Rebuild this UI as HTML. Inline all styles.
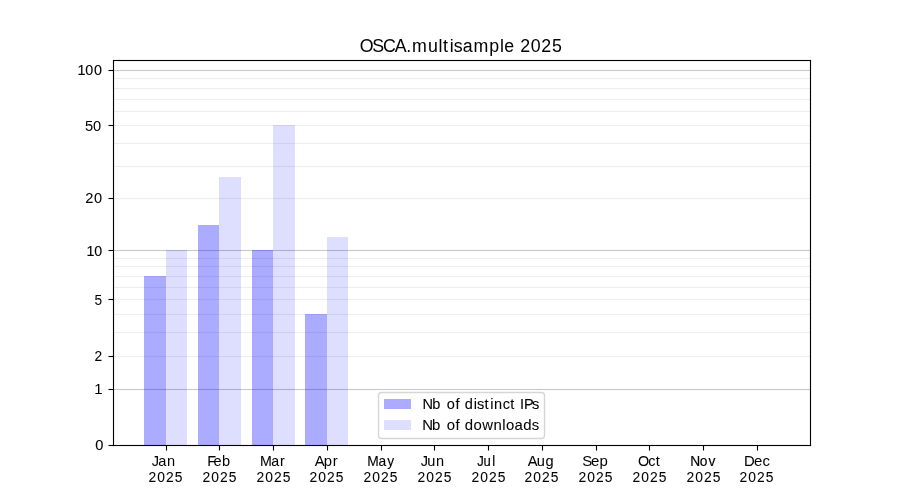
<!DOCTYPE html>
<html lang="en">
<head>
<meta charset="utf-8">
<title>OSCA.multisample 2025</title>
<style>
html,body{margin:0;padding:0;background:#fff;}
body{width:900px;height:500px;overflow:hidden;}
svg{display:block;}
text{font-family:"Liberation Sans",sans-serif;fill:#000;}
</style>
</head>
<body>
<svg width="900" height="500" viewBox="0 0 900 500" role="img" aria-label="OSCA.multisample 2025 bar chart">
<rect x="0" y="0" width="900" height="500" fill="#ffffff"/>
<g id="grid">
<rect x="113.000" y="388.945" width="698.000" height="1.111" fill="#c8c8c8"/>
<rect x="113.000" y="355.945" width="698.000" height="1.111" fill="#eeeeee"/>
<rect x="113.000" y="331.945" width="698.000" height="1.111" fill="#eeeeee"/>
<rect x="113.000" y="313.945" width="698.000" height="1.111" fill="#eeeeee"/>
<rect x="113.000" y="298.945" width="698.000" height="1.111" fill="#eeeeee"/>
<rect x="113.000" y="286.945" width="698.000" height="1.111" fill="#eeeeee"/>
<rect x="113.000" y="275.945" width="698.000" height="1.111" fill="#eeeeee"/>
<rect x="113.000" y="265.945" width="698.000" height="1.111" fill="#eeeeee"/>
<rect x="113.000" y="257.945" width="698.000" height="1.111" fill="#eeeeee"/>
<rect x="113.000" y="249.945" width="698.000" height="1.111" fill="#c8c8c8"/>
<rect x="113.000" y="197.945" width="698.000" height="1.111" fill="#eeeeee"/>
<rect x="113.000" y="165.945" width="698.000" height="1.111" fill="#eeeeee"/>
<rect x="113.000" y="142.945" width="698.000" height="1.111" fill="#eeeeee"/>
<rect x="113.000" y="124.945" width="698.000" height="1.111" fill="#eeeeee"/>
<rect x="113.000" y="110.945" width="698.000" height="1.111" fill="#eeeeee"/>
<rect x="113.000" y="98.945" width="698.000" height="1.111" fill="#eeeeee"/>
<rect x="113.000" y="87.945" width="698.000" height="1.111" fill="#eeeeee"/>
<rect x="113.000" y="77.945" width="698.000" height="1.111" fill="#eeeeee"/>
<rect x="113.000" y="69.945" width="698.000" height="1.111" fill="#c8c8c8"/>
</g>
<g id="bars">
<rect x="144" y="276" width="22" height="169" fill="#0000ff" fill-opacity="0.33"/>
<rect x="166" y="250" width="21" height="195" fill="#0000ff" fill-opacity="0.13"/>
<rect x="198" y="225" width="21" height="220" fill="#0000ff" fill-opacity="0.33"/>
<rect x="219" y="177" width="22" height="268" fill="#0000ff" fill-opacity="0.13"/>
<rect x="252" y="250" width="21" height="195" fill="#0000ff" fill-opacity="0.33"/>
<rect x="273" y="125" width="22" height="320" fill="#0000ff" fill-opacity="0.13"/>
<rect x="305" y="314" width="22" height="131" fill="#0000ff" fill-opacity="0.33"/>
<rect x="327" y="237" width="21" height="208" fill="#0000ff" fill-opacity="0.13"/>
</g>
<g id="ticks" fill="#000">
<rect x="165.945" y="445.000" width="1.111" height="5.500"/>
<rect x="218.945" y="445.000" width="1.111" height="5.500"/>
<rect x="272.945" y="445.000" width="1.111" height="5.500"/>
<rect x="326.945" y="445.000" width="1.111" height="5.500"/>
<rect x="380.945" y="445.000" width="1.111" height="5.500"/>
<rect x="433.945" y="445.000" width="1.111" height="5.500"/>
<rect x="487.945" y="445.000" width="1.111" height="5.500"/>
<rect x="541.944" y="445.000" width="1.111" height="5.500"/>
<rect x="595.944" y="445.000" width="1.111" height="5.500"/>
<rect x="648.944" y="445.000" width="1.111" height="5.500"/>
<rect x="702.944" y="445.000" width="1.111" height="5.500"/>
<rect x="756.944" y="445.000" width="1.111" height="5.500"/>
<rect x="108.500" y="69.945" width="4.500" height="1.111"/>
<rect x="108.500" y="124.945" width="4.500" height="1.111"/>
<rect x="108.500" y="197.945" width="4.500" height="1.111"/>
<rect x="108.500" y="249.945" width="4.500" height="1.111"/>
<rect x="108.500" y="298.945" width="4.500" height="1.111"/>
<rect x="108.500" y="355.945" width="4.500" height="1.111"/>
<rect x="108.500" y="388.945" width="4.500" height="1.111"/>
<rect x="108.500" y="444.945" width="4.500" height="1.111"/>
</g>
<g id="spines" fill="#000">
<rect x="112.945" y="59.944" width="1.111" height="386.111"/>
<rect x="809.944" y="59.944" width="1.111" height="386.111"/>
<rect x="112.945" y="444.945" width="698.111" height="1.111"/>
<rect x="112.945" y="59.944" width="698.111" height="1.111"/>
</g>
<g id="legend">
<rect x="378.5" y="392.5" width="166" height="46" rx="3.2" ry="3.2" fill="#ffffff" fill-opacity="0.8" stroke="#cccccc" stroke-opacity="0.8" stroke-width="1.389"/>
<rect x="384" y="399" width="27" height="10" fill="#0000ff" fill-opacity="0.33"/>
<rect x="384" y="420" width="27" height="10" fill="#0000ff" fill-opacity="0.13"/>
</g>
<g id="labels" opacity="0.999">
<text transform="translate(0 52) scale(1.0107 1)" font-size="17.6" stroke="#000" stroke-width="0.03" x="356.02 368.29 378.9 390.53 402 407.61 423.5 433.87 438.31 444.92 448.92 457.8 468.6 484.05 494.63 499.03 504.31 514.66 525.22 535.57 546.16">OSCA.multisample 2025</text>
<text transform="translate(0 75) scale(1.0089 1)" font-size="14.2" stroke="#000" stroke-width="0.12" x="76.77 84.49 93.16">100</text>
<text transform="translate(0 131) scale(1.0321 1)" font-size="14.2" stroke="#000" stroke-width="0.01" x="82.45 90.13">50</text>
<text transform="translate(0 203) scale(1.0283 1)" font-size="14.2" stroke="#000" stroke-width="0.06" x="82.9 91.45">20</text>
<text transform="translate(0 256) scale(1.0022 1)" font-size="14.2" stroke="#000" stroke-width="0.11" x="86.29 94.07">10</text>
<text transform="translate(0 305) scale(0.9646 1)" font-size="14.2" stroke="#000" stroke-width="0.01" x="98.09">5</text>
<text transform="translate(0 361) scale(0.9675 1)" font-size="14.2" stroke="#000" stroke-width="0.07" x="97.66">2</text>
<text transform="translate(0 394) scale(1.0541 1)" font-size="14.2" stroke="#000" stroke-width="0.03" x="89.43">1</text>
<text transform="translate(0 450) scale(1.0328 1)" font-size="14.2" stroke="#000" stroke-width="0.11" x="92.25">0</text>
<text transform="translate(0 466) scale(1.0272 1)" font-size="14.2" stroke="#000" stroke-width="0.01" x="147.86 154.04 162.48">Jan</text>
<text transform="translate(0 482) scale(0.9745 1)" font-size="14.2" stroke="#000" stroke-width="0.07" x="152.34 161.36 170.29 179.39">2025</text>
<text transform="translate(0 466) scale(1.0274 1)" font-size="14.2" stroke="#000" stroke-width="0.01" x="201.62 207.9 216.18">Feb</text>
<text transform="translate(0 482) scale(0.9745 1)" font-size="14.2" stroke="#000" stroke-width="0.07" x="207.75 216.78 225.7 234.8">2025</text>
<text transform="translate(0 466) scale(1.0007 1)" font-size="14.2" stroke="#000" stroke-width="0.08" x="259.74 271 279.8">Mar</text>
<text transform="translate(0 482) scale(0.9745 1)" font-size="14.2" stroke="#000" stroke-width="0.07" x="263.17 272.19 281.11 290.21">2025</text>
<text transform="translate(0 466) scale(1.0440 1)" font-size="14.2" stroke="#000" stroke-width="0.01" x="301.52 310.09 318.74">Apr</text>
<text transform="translate(0 482) scale(0.9745 1)" font-size="14.2" stroke="#000" stroke-width="0.07" x="317.55 326.57 335.5 344.6">2025</text>
<text transform="translate(0 466) scale(0.9737 1)" font-size="14.2" stroke="#000" stroke-width="0.11" x="377.17 388.69 397.8">May</text>
<text transform="translate(0 482) scale(0.9745 1)" font-size="14.2" stroke="#000" stroke-width="0.07" x="372.96 381.99 390.91 400.01">2025</text>
<text transform="translate(0 466) scale(1.0259 1)" font-size="14.2" stroke="#000" stroke-width="0.04" x="410.15 416.5 424.95">Jun</text>
<text transform="translate(0 482) scale(0.9745 1)" font-size="14.2" stroke="#000" stroke-width="0.07" x="428.38 437.4 446.32 455.43">2025</text>
<text transform="translate(0 466) scale(0.9206 1)" font-size="14.2" stroke="#000" stroke-width="0.18" x="518.47 525.24 534.7">Jul</text>
<text transform="translate(0 482) scale(0.9745 1)" font-size="14.2" stroke="#000" stroke-width="0.07" x="483.79 492.81 501.73 510.84">2025</text>
<text transform="translate(0 466) scale(1.0280 1)" font-size="14.2" stroke="#000" stroke-width="0.06" x="513.32 522.04 530.66">Aug</text>
<text transform="translate(0 482) scale(0.9745 1)" font-size="14.2" stroke="#000" stroke-width="0.07" x="538.18 547.2 556.12 565.22">2025</text>
<text transform="translate(0 466) scale(1.0562 1)" font-size="14.2" x="551.26 559.48 567.51">Sep</text>
<text transform="translate(0 482) scale(0.9745 1)" font-size="14.2" stroke="#000" stroke-width="0.07" x="593.59 602.61 611.53 620.64">2025</text>
<text transform="translate(0 466) scale(1.0130 1)" font-size="14.2" stroke="#000" stroke-width="0.04" x="629.81 640 647.45">Oct</text>
<text transform="translate(0 482) scale(0.9745 1)" font-size="14.2" stroke="#000" stroke-width="0.07" x="649 658.02 666.94 676.05">2025</text>
<text transform="translate(0 466) scale(0.9699 1)" font-size="14.2" stroke="#000" stroke-width="0.18" x="711.62 721.5 730.59">Nov</text>
<text transform="translate(0 482) scale(0.9745 1)" font-size="14.2" stroke="#000" stroke-width="0.07" x="704.41 713.43 722.36 731.46">2025</text>
<text transform="translate(0 466) scale(1.0493 1)" font-size="14.2" stroke="#000" stroke-width="0.04" x="709.16 718.56 726.61">Dec</text>
<text transform="translate(0 482) scale(0.9745 1)" font-size="14.2" stroke="#000" stroke-width="0.07" x="758.8 767.82 776.74 785.85">2025</text>
<text transform="translate(0 409) scale(1.0261 1)" font-size="14.2" stroke="#000" stroke-width="0.09" x="411.68 421.18 425.44 435.47 444 448.26 452.9 461.6 464.8 472.28 477.8 481.56 489.99 497.4 501.66 506.82 510.67 518.52">Nb of distinct IPs</text>
<text transform="translate(0 430) scale(1.0514 1)" font-size="14.2" stroke="#000" stroke-width="0.06" x="401.6 410.91 415.17 424.84 433.21 437.47 442.08 450.28 458.59 469.26 477.71 481.2 489.34 497.76 505.65">Nb of downloads</text>
</g>
</svg>
</body>
</html>
